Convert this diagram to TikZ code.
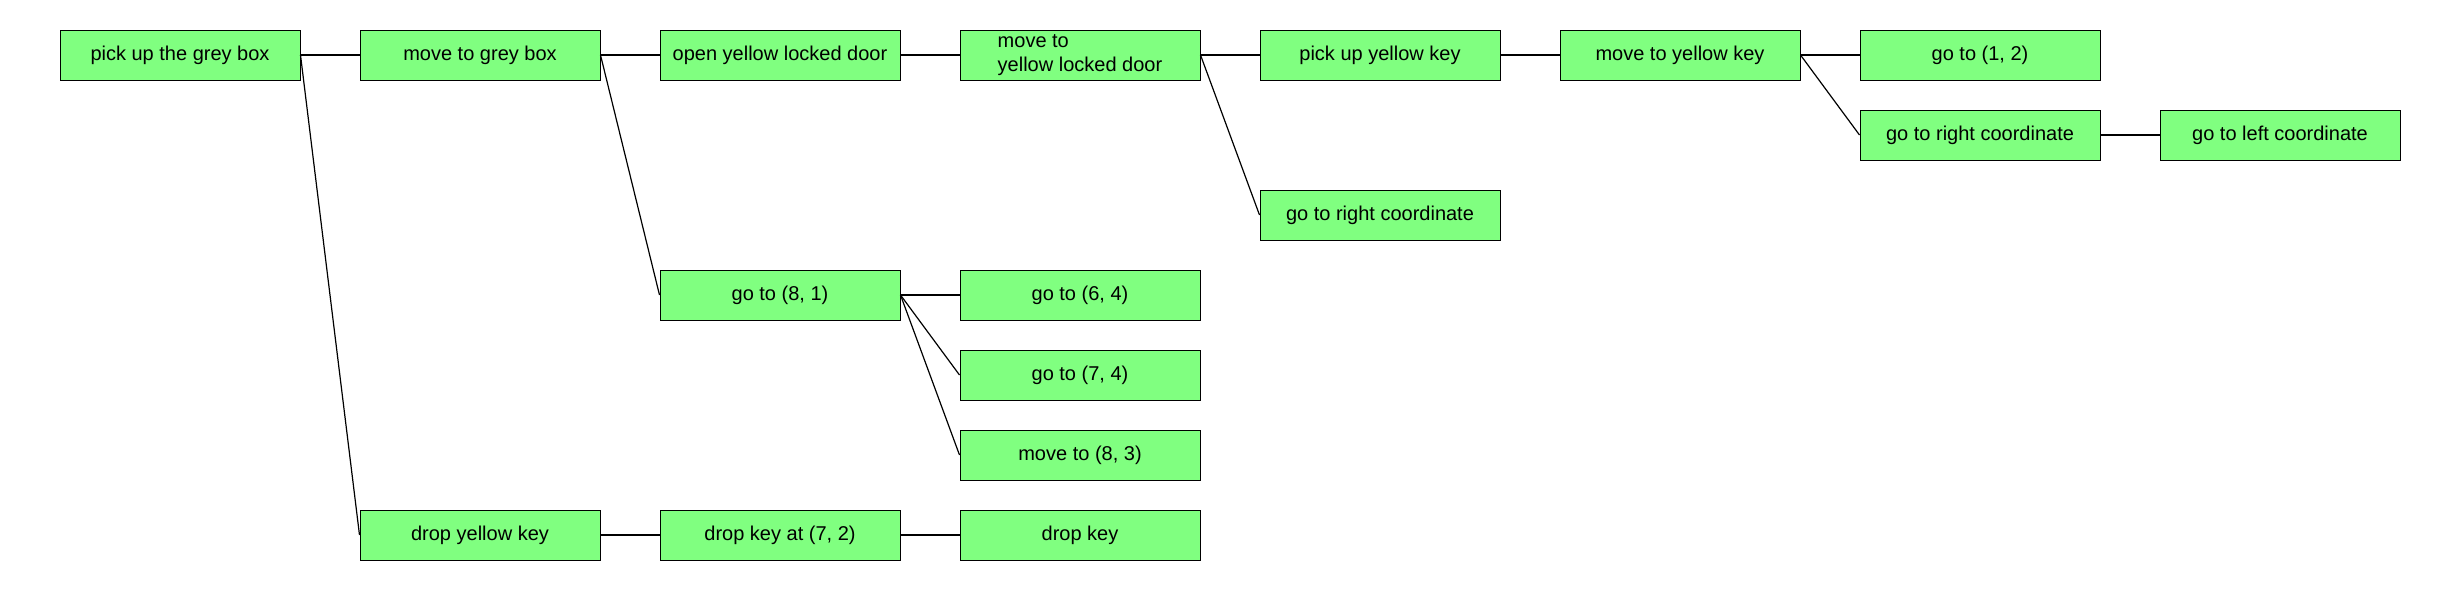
\documentclass[tikz,border=0pt]{standalone}
\usepackage{fontspec}
\setmainfont{Liberation Sans}
\definecolor{boxgreen}{HTML}{80FF80}
\begin{document}
\begin{tikzpicture}[x=1pt,y=-1pt,
  box/.style={draw=black,line width=1pt,fill=boxgreen,rectangle,minimum width=240pt,minimum height=50pt,inner sep=0pt,font=\fontsize{20}{24}\selectfont,align=center},
  lbox/.style={box,align=left},
  link/.style={draw=black,line width=1.2pt}]
\useasboundingbox (0,0) rectangle (2460,590);
\fill[white] (0,0) rectangle (2460,590);
% columns: center x = 180 + 300 i ; rows: center y = 55 + 80 j
\node[box] (a) at (180,55) {pick up the grey box};
\node[box] (b) at (480,55) {move to grey box};
\node[box] (c) at (780,55) {open yellow locked door};
\node[lbox] (d) at (1080,55) {move to\\yellow locked door};
\node[box] (e) at (1380,55) {pick up yellow key};
\node[box] (f) at (1680,55) {move to yellow key};
\node[box] (g) at (1980,55) {go to (1, 2)};
\node[box] (h) at (1980,135) {go to right coordinate};
\node[box] (i) at (2280,135) {go to left coordinate};
\node[box] (j) at (1380,215) {go to right coordinate};
\node[box] (k) at (780,295) {go to (8, 1)};
\node[box] (l) at (1080,295) {go to (6, 4)};
\node[box] (m) at (1080,375) {go to (7, 4)};
\node[box] (n) at (1080,455) {move to (8, 3)};
\node[box] (o) at (480,535) {drop yellow key};
\node[box] (p) at (780,535) {drop key at (7, 2)};
\node[box] (q) at (1080,535) {drop key};
\draw[link] (a.east) -- (b.west);
\draw[link] (a.east) -- (o.west);
\draw[link] (b.east) -- (c.west);
\draw[link] (b.east) -- (k.west);
\draw[link] (c.east) -- (d.west);
\draw[link] (d.east) -- (e.west);
\draw[link] (d.east) -- (j.west);
\draw[link] (e.east) -- (f.west);
\draw[link] (f.east) -- (g.west);
\draw[link] (f.east) -- (h.west);
\draw[link] (h.east) -- (i.west);
\draw[link] (k.east) -- (l.west);
\draw[link] (k.east) -- (m.west);
\draw[link] (k.east) -- (n.west);
\draw[link] (o.east) -- (p.west);
\draw[link] (p.east) -- (q.west);
\end{tikzpicture}
\end{document}
